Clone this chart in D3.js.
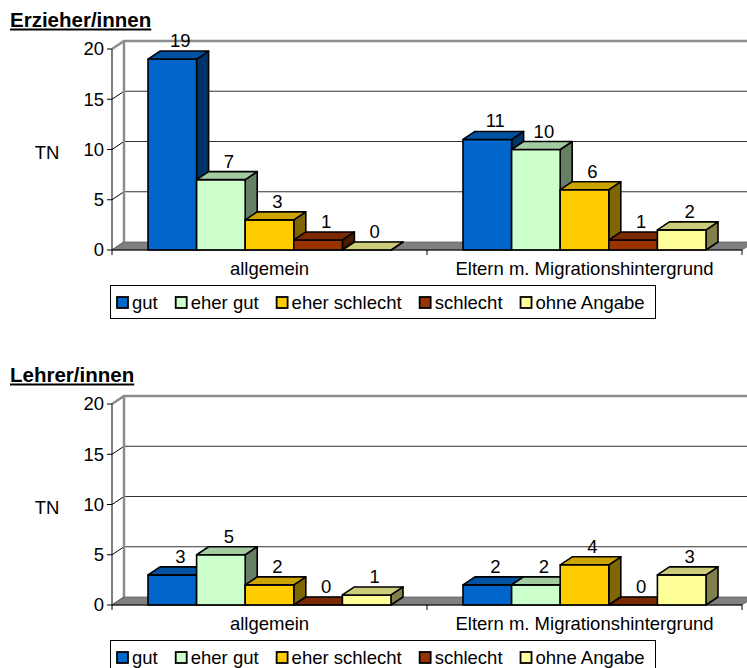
<!DOCTYPE html>
<html>
<head>
<meta charset="utf-8">
<script src="https://cdn.jsdelivr.net/npm/d3@7"></script>
<style>
  html, body { margin: 0; padding: 0; background: #fff; }
  svg { display: block; font-family: "Liberation Sans", Arial, sans-serif; }
</style>
</head>
<body>
<svg id="chart" width="747" height="668"></svg>
<script>
// Survey answers (number of participants, "TN") per group
const categories = ["allgemein", "Eltern m. Migrationshintergrund"];
const seriesNames = ["gut", "eher gut", "eher schlecht", "schlecht", "ohne Angabe"];
const erzieherValues = [[19, 11], [7, 10], [3, 6], [1, 1], [0, 2]];
const lehrerValues = [[3, 2], [5, 2], [2, 4], [0, 0], [1, 3]];
const yTicks = [0, 5, 10, 15, 20];

// face colours: front, top, side
const faceColors = {
  "gut":           ["#0066CC", "#0052A3", "#003366"],
  "eher gut":      ["#CCFFCC", "#A3CCA3", "#668066"],
  "eher schlecht": ["#FFCC00", "#CCA300", "#806600"],
  "schlecht":      ["#993300", "#7A2900", "#4D1A00"],
  "ohne Angabe":   ["#FFFF99", "#CCCC7A", "#80804D"]
};

const svg = d3.select("#chart");
svg.append("rect").attr("width", 747).attr("height", 668).attr("fill", "#fff");

const DX = 12, DY = -8;      // depth offset of the 3D projection
const FS = 18.5;

function drawPanel(offsetY, title, values) {
  const g = svg.append("g").attr("transform", `translate(0,${offsetY})`);

  const y = d3.scaleLinear().domain([0, 20]).range([250, 49]);
  const x0 = d3.scaleBand().domain(categories).range([112, 742]);
  const x1 = d3.scaleBand().domain(seriesNames).range([36, x0.bandwidth() - 36]);
  const xL = x0.range()[0], xR = x0.range()[1];

  // title
  const t = g.append("text").attr("x", 10).attr("y", 27)
    .attr("font-size", 20.5).attr("font-weight", "bold").text(title);
  const tw = t.node().getComputedTextLength();
  g.append("line").attr("x1", 10).attr("x2", 10 + tw).attr("y1", 29.5).attr("y2", 29.5)
    .attr("stroke", "#000").attr("stroke-width", 1.8);

  // back wall
  g.append("rect").attr("x", xL + DX).attr("y", y(20) + DY)
    .attr("width", 800).attr("height", y(0) - y(20)).attr("fill", "#fff");

  // gridlines on the back wall and on the side wall
  yTicks.filter(v => v > 0 && v < 20).forEach(v => {
    g.append("line").attr("x1", xL + DX).attr("x2", 800)
      .attr("y1", y(v) + DY).attr("y2", y(v) + DY)
      .attr("stroke", "#333").attr("stroke-width", 1);
  });
  yTicks.filter(v => v < 20).forEach(v => {
    g.append("line").attr("x1", xL).attr("y1", y(v))
      .attr("x2", xL + DX).attr("y2", y(v) + DY)
      .attr("stroke", "#000").attr("stroke-width", 1);
  });

  // floor
  g.append("polygon")
    .attr("points", [[xL, y(0)], [xR, y(0)], [xR + DX, y(0) + DY], [xL + DX, y(0) + DY]].join(" "))
    .attr("fill", "#808080").attr("stroke", "#606060").attr("stroke-width", 0.8);

  // wall border
  g.append("path")
    .attr("d", `M${xL + DX},${y(0) + DY}V${y(20) + DY}H800M${xL},${y(20)}L${xL + DX},${y(20) + DY}`)
    .attr("fill", "none").attr("stroke", "#8c8c8c").attr("stroke-width", 2.5);

  // value axis
  g.append("line").attr("x1", xL).attr("x2", xL).attr("y1", y(20)).attr("y2", y(0))
    .attr("stroke", "#000").attr("stroke-width", 1);
  yTicks.forEach(v => {
    g.append("line").attr("x1", xL - 5).attr("x2", xL).attr("y1", y(v)).attr("y2", y(v))
      .attr("stroke", "#000");
    g.append("text").attr("x", xL - 8).attr("y", y(v)).attr("dy", "0.35em")
      .attr("text-anchor", "end").attr("font-size", FS).text(v);
  });
  g.append("text").attr("x", 47).attr("y", 153).attr("dy", "0.35em")
    .attr("text-anchor", "middle").attr("font-size", FS).text("TN");

  // bars, drawn left to right so each front face hides the previous side face
  const labels = [];
  categories.forEach((cat, ci) => {
    seriesNames.forEach((s, si) => {
      const v = values[si][ci];
      const xl = x0(cat) + x1(s), w = x1.bandwidth();
      const yt = y(v), yb = y(0);
      const [cf, ct, cs] = faceColors[s];
      const bar = g.append("g").attr("stroke", "#000").attr("stroke-width", 1.6)
        .attr("stroke-linejoin", "round");
      bar.append("polygon")
        .attr("points", [[xl + w, yt], [xl + w + DX, yt + DY], [xl + w + DX, yb + DY], [xl + w, yb]].join(" "))
        .attr("fill", cs);
      bar.append("rect").attr("x", xl).attr("y", yt).attr("width", w).attr("height", yb - yt)
        .attr("fill", cf);
      bar.append("polygon")
        .attr("points", [[xl, yt], [xl + DX, yt + DY], [xl + w + DX, yt + DY], [xl + w, yt]].join(" "))
        .attr("fill", ct);
      labels.push({ x: xl + w / 2 + 8, y: yt - 12, v });
    });
  });

  // category axis
  g.append("line").attr("x1", xL).attr("x2", xR).attr("y1", y(0)).attr("y2", y(0))
    .attr("stroke", "#000").attr("stroke-width", 1.2);
  [xL, ...categories.map(c => x0(c) + x0.bandwidth())].forEach(xv => {
    g.append("line").attr("x1", xv).attr("x2", xv).attr("y1", y(0)).attr("y2", y(0) + 5)
      .attr("stroke", "#000");
  });
  categories.forEach(c => {
    g.append("text").attr("x", x0(c) + x0.bandwidth() / 2).attr("y", 275)
      .attr("text-anchor", "middle").attr("font-size", FS).text(c);
  });

  // data labels
  labels.forEach(d => {
    g.append("text").attr("x", d.x).attr("y", d.y).attr("text-anchor", "middle")
      .attr("font-size", FS).text(d.v);
  });

  // legend
  const lg = g.append("g");
  lg.append("rect").attr("x", 110.5).attr("y", 285.5).attr("width", 545).attr("height", 33)
    .attr("fill", "#fff").attr("stroke", "#000").attr("stroke-width", 1);
  let lx = 117;
  seriesNames.forEach(s => {
    lg.append("rect").attr("x", lx).attr("y", 297).attr("width", 11).attr("height", 11)
      .attr("fill", faceColors[s][0]).attr("stroke", "#000").attr("stroke-width", 1.8);
    const txt = lg.append("text").attr("x", lx + 15).attr("y", 309)
      .attr("font-size", FS).text(s);
    lx += 15 + txt.node().getComputedTextLength() + 18;
  });
}

drawPanel(0, "Erzieher/innen", erzieherValues);
drawPanel(355, "Lehrer/innen", lehrerValues);
</script>
</body>
</html>
